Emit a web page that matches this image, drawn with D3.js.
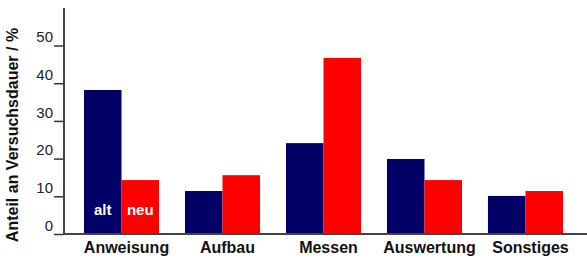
<!DOCTYPE html>
<html>
<head>
<meta charset="utf-8">
<script src="https://cdn.jsdelivr.net/npm/d3@7"></script>
<style>
  body { margin: 0; background: #fff; }
  text { font-family: "Liberation Sans", Arial, sans-serif; }
</style>
</head>
<body>
<svg width="587" height="260"></svg>
<script>
var categories = ["Anweisung", "Aufbau", "Messen", "Auswertung", "Sonstiges"];
var series = ["alt", "neu"];
var altValues = [38.2, 11.4, 24.1, 19.9, 10.1];
var neuValues = [14.3, 15.6, 46.7, 14.3, 11.4];
var yTicks = [0, 10, 20, 30, 40, 50];

var colors = { alt: "#000066", neu: "#ff0000" };

var svg = d3.select("svg"),
    width = +svg.attr("width"),
    height = +svg.attr("height");

var x0 = 64, yBase = 234;

var y = d3.scaleLinear()
    .domain([0, 50])
    .range([yBase, yBase - 50 * 3.77]);

var x = d3.scaleBand()
    .domain(categories)
    .range([x0, 583])
    .paddingInner(0.257)
    .paddingOuter(0.198);

var xs = d3.scaleBand()
    .domain(series)
    .range([0, x.bandwidth()]);

var data = categories.map(function(c, i) {
  return { cat: c, alt: altValues[i], neu: neuValues[i] };
});

// bars
var groups = svg.append("g")
  .selectAll("g")
  .data(data)
  .enter().append("g")
    .attr("transform", function(d) { return "translate(" + x(d.cat) + ",0)"; });

groups.selectAll("rect")
  .data(function(d) { return series.map(function(s) { return { key: s, value: d[s] }; }); })
  .enter().append("rect")
    .attr("x", function(d) { return xs(d.key); })
    .attr("y", function(d) { return y(d.value); })
    .attr("width", xs.bandwidth())
    .attr("height", function(d) { return yBase - y(d.value); })
    .attr("fill", function(d) { return colors[d.key]; });

// alt / neu labels inside first group
svg.append("g")
  .selectAll("text")
  .data(series)
  .enter().append("text")
    .attr("x", function(s) { return x(categories[0]) + xs(s) + xs.bandwidth() / 2; })
    .attr("y", 215)
    .attr("text-anchor", "middle")
    .attr("fill", "#fff")
    .attr("font-weight", "bold")
    .attr("font-size", "15px")
    .text(function(s) { return s; });

// y axis
var yAxis = d3.axisLeft(y)
    .tickValues(yTicks)
    .tickSize(10)
    .tickPadding(3);

var gy = svg.append("g")
    .attr("transform", "translate(" + x0 + ",0)")
    .call(yAxis);

gy.select(".domain").remove();
gy.selectAll(".tick line").attr("stroke", "#333").attr("stroke-width", 1.5);
gy.selectAll(".tick text")
    .attr("x", -11)
    .attr("dy", "-0.25em")
    .attr("fill", "#222")
    .attr("font-size", "15px")
    .attr("font-family", "Liberation Sans, Arial, sans-serif");

svg.append("line")
    .attr("x1", x0).attr("x2", x0)
    .attr("y1", 8).attr("y2", yBase + 1)
    .attr("stroke", "#444").attr("stroke-width", 2);

// x axis
svg.append("line")
    .attr("x1", x0 - 1).attr("x2", width)
    .attr("y1", yBase).attr("y2", yBase)
    .attr("stroke", "#444").attr("stroke-width", 2);

svg.append("g")
  .selectAll("text")
  .data(categories)
  .enter().append("text")
    .attr("x", function(c) { return x(c) + x.bandwidth() / 2 + 5; })
    .attr("y", 253)
    .attr("text-anchor", "middle")
    .attr("font-weight", "bold")
    .attr("font-size", "16px")
    .attr("fill", "#111")
    .text(function(c) { return c; });

// y label
svg.append("text")
    .attr("transform", "translate(18,135) rotate(-90)")
    .attr("text-anchor", "middle")
    .attr("font-weight", "bold")
    .attr("font-size", "16px")
    .attr("fill", "#111")
    .text("Anteil an Versuchsdauer / %");
</script>
</body>
</html>
